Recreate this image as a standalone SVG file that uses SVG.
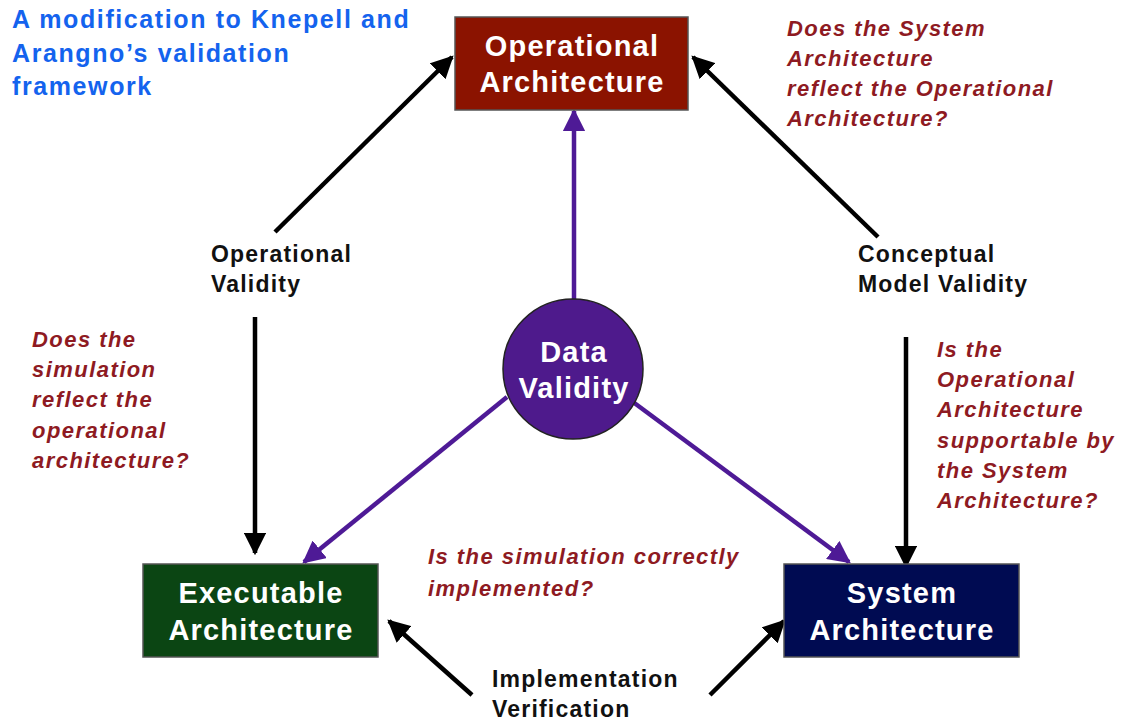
<svg xmlns="http://www.w3.org/2000/svg" width="1124" height="721" viewBox="0 0 1124 721">
  <defs>
    <style>
      .box { stroke: #555; stroke-width: 1.5; }
      .nodeText { font-family: "Liberation Sans", Arial, sans-serif; font-weight: bold; font-size: 29px; letter-spacing: 1.2px; fill: #fff; text-anchor: middle; }
      .label { font-family: "Liberation Sans", Arial, sans-serif; font-weight: bold; font-size: 23px; letter-spacing: 1.2px; fill: #111; }
      .question { font-family: "Liberation Sans", Arial, sans-serif; font-weight: bold; font-style: italic; font-size: 22px; letter-spacing: 1.45px; fill: #8E1A22; }
      .title { font-family: "Liberation Sans", Arial, sans-serif; font-weight: bold; font-size: 25px; letter-spacing: 1.6px; fill: #1463EE; }
      .blk { stroke: #000; stroke-width: 4.5; fill: none; }
      .pur { stroke: #4E1A96; stroke-width: 4.5; fill: none; }
    </style>
    <marker id="headBlack" viewBox="0 0 10 10" refX="9" refY="5" markerWidth="5" markerHeight="5" orient="auto" markerUnits="strokeWidth">
      <path d="M0,0 L10,5 L0,10 z" fill="#000"/>
    </marker>
    <marker id="headPurple" viewBox="0 0 10 10" refX="9" refY="5" markerWidth="5" markerHeight="5" orient="auto" markerUnits="strokeWidth">
      <path d="M0,0 L10,5 L0,10 z" fill="#4E1A96"/>
    </marker>
  </defs>

  <rect width="1124" height="721" fill="#fff"/>

  <!-- connectors -->
  <g id="connectors">
    <line class="blk" x1="275" y1="232" x2="452" y2="57" marker-end="url(#headBlack)"/>
    <line class="blk" x1="878" y1="237" x2="693" y2="57" marker-end="url(#headBlack)"/>
    <line class="blk" x1="255" y1="317" x2="255" y2="553" marker-end="url(#headBlack)"/>
    <line class="blk" x1="906" y1="337" x2="906" y2="566" marker-end="url(#headBlack)"/>
    <line class="blk" x1="472" y1="695" x2="389" y2="621" marker-end="url(#headBlack)"/>
    <line class="blk" x1="710" y1="695" x2="784" y2="621" marker-end="url(#headBlack)"/>
    <line class="pur" x1="574" y1="299" x2="574" y2="111" marker-end="url(#headPurple)"/>
    <line class="pur" x1="507" y1="397" x2="304" y2="562" marker-end="url(#headPurple)"/>
    <line class="pur" x1="633" y1="402" x2="849" y2="562" marker-end="url(#headPurple)"/>
  </g>

  <!-- nodes -->
  <g id="operational-architecture">
    <rect class="box" x="455" y="17" width="233" height="93" fill="#8B1300"/>
    <text class="nodeText" x="572" y="56">Operational</text>
    <text class="nodeText" x="572" y="92">Architecture</text>
  </g>

  <g id="data-validity">
    <circle cx="573" cy="369" r="70" fill="#4E1A8C" stroke="#222" stroke-width="1.5"/>
    <text class="nodeText" x="574" y="362">Data</text>
    <text class="nodeText" x="574" y="398">Validity</text>
  </g>

  <g id="executable-architecture">
    <rect class="box" x="143" y="564" width="235" height="93" fill="#0B4513"/>
    <text class="nodeText" x="261" y="603">Executable</text>
    <text class="nodeText" x="261" y="640">Architecture</text>
  </g>

  <g id="system-architecture">
    <rect class="box" x="784" y="564" width="235" height="93" fill="#000B52"/>
    <text class="nodeText" x="902" y="603">System</text>
    <text class="nodeText" x="902" y="640">Architecture</text>
  </g>

  <!-- connector labels -->
  <g id="label-operational-validity">
    <text class="label" x="211" y="262">Operational</text>
    <text class="label" x="211" y="292">Validity</text>
  </g>
  <g id="label-conceptual-model-validity">
    <text class="label" x="858" y="262">Conceptual</text>
    <text class="label" x="858" y="292">Model Validity</text>
  </g>
  <g id="label-implementation-verification">
    <text class="label" x="492" y="687">Implementation</text>
    <text class="label" x="492" y="717">Verification</text>
  </g>

  <!-- title -->
  <g id="title">
    <text class="title" x="12" y="28">A modification to Knepell and</text>
    <text class="title" x="12" y="62">Arangno’s validation</text>
    <text class="title" x="12" y="95">framework</text>
  </g>

  <!-- guiding questions -->
  <g id="question-conceptual">
    <text class="question" x="787" y="36">Does the System</text>
    <text class="question" x="787" y="66">Architecture</text>
    <text class="question" x="787" y="96">reflect the Operational</text>
    <text class="question" x="787" y="126">Architecture?</text>
  </g>
  <g id="question-operational">
    <text class="question" x="32" y="347">Does the</text>
    <text class="question" x="32" y="377">simulation</text>
    <text class="question" x="32" y="407">reflect the</text>
    <text class="question" x="32" y="438">operational</text>
    <text class="question" x="32" y="468">architecture?</text>
  </g>
  <g id="question-supportable">
    <text class="question" x="937" y="357">Is the</text>
    <text class="question" x="937" y="387">Operational</text>
    <text class="question" x="937" y="417">Architecture</text>
    <text class="question" x="937" y="448">supportable by</text>
    <text class="question" x="937" y="478">the System</text>
    <text class="question" x="937" y="508">Architecture?</text>
  </g>
  <g id="question-implementation">
    <text class="question" x="428" y="564">Is the simulation correctly</text>
    <text class="question" x="428" y="596">implemented?</text>
  </g>
</svg>
